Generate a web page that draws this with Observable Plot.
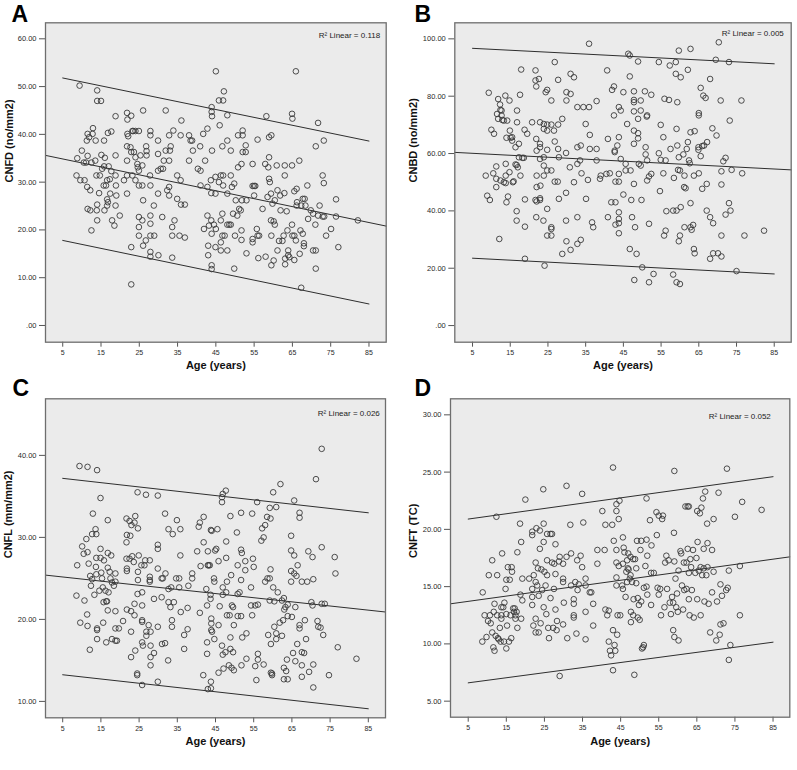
<!DOCTYPE html>
<html><head><meta charset="utf-8">
<script src="https://cdn.jsdelivr.net/npm/d3@7"></script>
<script src="https://cdn.jsdelivr.net/npm/@observablehq/plot@0.6"></script>
<style>
body{margin:0;background:#fff;}
#wrap{position:relative;width:797px;height:770px;overflow:hidden;background:#fff;}
#wrap svg{position:absolute;}
</style></head><body><div id="wrap"></div>
<script>
// ---------- data (age in years, value) ----------
const xTicks = [5, 15, 25, 35, 45, 55, 65, 75, 85];
const xLabel = "Age (years)";
const panelLetters = ["A", "B", "C", "D"];
const yLabels = ["CNFD (no/mm2)", "CNBD (no/mm2)", "CNFL (mm/mm2)", "CNFT (TC)"];
const r2Labels = ["R² Linear = 0.118", "R² Linear = 0.005", "R² Linear = 0.026", "R² Linear = 0.052"];

const cnfdTicks = [0, 10, 20, 30, 40, 50, 60];
const cnbdTicks = [0, 20, 40, 60, 80, 100];
const cnflTicks = [10, 20, 30, 40];
const cnftTicks = [5, 10, 15, 20, 25, 30];

const cnfdUpper = [[5, 51.8], [85, 38.6]];
const cnfdFit = [[0.5, 35.6], [89.5, 20.8]];
const cnfdLower = [[5, 17.8], [85, 4.5]];
const cnbdUpper = [[5, 96.7], [85, 91.3]];
const cnbdFit = [[0.3, 60.4], [89.5, 54.3]];
const cnbdLower = [[5, 23.5], [85, 18.0]];
const cnflUpper = [[5, 37.2], [85, 33.0]];
const cnflFit = [[0.5, 25.4], [89.5, 20.9]];
const cnflLower = [[5, 13.25], [85, 9.1]];
const cnftUpper = [[5, 20.9], [85, 24.6]];
const cnftFit = [[0.35, 13.5], [89.4, 17.6]];
const cnftLower = [[5, 6.6], [85, 10.15]];

const cnfdPoints = [[9.4,50.2],[8.8,35.0],[8.6,31.4],[10,36.6],[9.6,30.4],[10.7,30.4],[10.5,34.1],
[11.3,38.7],[11.5,40.1],[11.9,39.4],[12.9,41.3],[12.8,40.1],[13.6,38.7],[11.5,35.5],[11.1,34.1],[12.5,34.1],[13.5,34.5],[11.4,29.0],[12.2,28.3],[11.5,24.4],[12.2,24.1],[12.5,19.9],[14,49.2],[14,47.0],[15,47.0],[13.8,31.4],[14.7,31.4],[14,25.3],[13.9,24.1],[14,22.0],[14.5,27.7],
[15.1,35.7],[16,35.1],[15.3,32.8],[15.8,33.3],[15.7,29.3],[16.3,29.3],[16.6,30.4],[17.3,30.6],[17,33.3],[17.7,32.3],[16.6,26.4],[16.8,25.8],[17.4,27.6],[15.8,38.7],[16.8,40.3],[17.7,40.6],[15.9,24.1],[16.6,25.1],[17.9,22.0],[18.5,20.9],[18.8,35.6],[18.8,43.8],[18.8,31.4],[18.9,29.3],[19,27.2],[18.8,25.1],[19.9,23.0],
[21,30.4],[21.8,31.4],[21.8,44.5],[21.9,43.1],[21.9,40.1],[22.1,39.6],[21.8,37.5],[21.8,34.5],[21.8,27.6],[22.9,43.9],[22.7,37.3],[23.2,40.7],[23.4,40.7],[24,40.7],[24.9,40.7],[22.9,36.3],[23.6,36.3],[24,35.2],[24.5,33.8],[24.6,33.1],[23.2,31.4],[24,30.4],[25.3,35.6],[22.9,16.4],[22.9,8.6],[24.9,32.4],[24.9,29.3],[24.9,22.7],[24.9,20.6],[24.9,18.8],[25.8,29.3],[26,45.0],[26,26.2],[25.8,22.0],[26,16.7],[25.8,33.5],
[26.8,37.5],[26.9,36.5],[26.9,35.6],[26.7,17.8],[27.9,40.7],[27.9,39.8],[27.8,31.4],[27.9,29.3],[27.9,23.0],[27.9,21.3],[27.9,18.8],[28.9,18.8],[27.9,15.4],[27.9,14.4],[28.8,25.1],[29.9,38.7],[29.9,35.9],[29.9,32.4],[29.9,27.6],[30,14.7],[31,22.7],[30.6,32.8],[31.2,32.8],[31.4,34.5],[31.9,45.0],[31.9,36.6],[32.3,28.3],
[32.8,39.8],[33,36.6],[33.2,37.5],[32.8,34.5],[32.8,29.0],[32.8,27.2],[33.6,20.6],[33.6,18.8],[33.6,14.2],[34.2,22.0],[33.9,40.8],[34.9,31.4],[34.9,26.5],[35.5,18.8],[35.8,39.8],[36,42.9],[35.8,30.4],[35.9,25.3],[36.9,25.3],[36.9,18.4],[38,39.8],[38,34.5],[38.4,38.7],
[38.8,38.7],[39,36.6],[40.3,32.8],[41,32.4],[40.9,37.5],[41,29.3],[41.7,40.1],[42.2,34.5],[41.9,20.2],[42.8,41.2],[42.8,29.0],[42.8,23.0],[43,16.7],[43,14.7],[43.2,20.9],[43.7,30.4],[43.8,27.7],[43.8,22.0],[43.9,19.2],[43.9,12.6],[43.9,11.8],[44,36.6],[43.9,45.7],[43.9,44.7],[44,43.8],[45,53.2],[44.9,31.1],[44.9,27.6],[44.9,16.4],[45,20.2],[44.5,21.1],
[45.8,47.1],[46.9,47.1],[47.1,49.0],[46,41.9],[45.8,30.0],[46.3,31.4],[46.7,37.5],[46.9,31.4],[46.9,29.3],[46.3,22.0],[46.3,17.4],[46.7,23.4],[46.7,18.8],[47.3,18.8],[46.3,15.7],[48,44.0],[48,38.7],[48,27.6],[48,21.1],[48.5,21.1],[48.9,21.1],[48,15.7],[48.9,36.6],[48.9,31.4],[49.2,29.0],[49.5,23.4],[49.8,29.7],[49.8,11.9],[50,18.8],[50.2,26.2],[50.6,23.0],[50.8,39.8],[50.8,33.1],[51.1,24.4],[51.5,24.1],
[51.7,33.8],[52,39.8],[52,40.8],[52,36.3],[51.8,26.2],[51.7,19.9],[51.7,17.9],[52.8,37.7],[52.8,36.3],[53,26.2],[53,15.1],[54.6,33.8],[54.6,29.2],[55,29.2],[55.3,29.2],[55,27.2],[54.6,18.1],[54.6,17.4],[55.7,20.2],[55.9,18.8],[56.3,18.8],[56.1,14.1],[55.9,38.9],[57.2,24.4],
[58,14.4],[57.9,33.8],[58.2,43.8],[58.5,26.9],[58.7,33.1],[58.9,39.4],[59.5,39.8],[58.9,35.2],[58.9,30.7],[59.1,30.0],[59.4,27.6],[59.4,22.0],[60.1,21.8],[59.5,18.8],[59.5,12.6],[60.1,13.6],[59.8,25.5],[60.4,26.2],[60.4,21.1],[60.9,33.5],[61.1,28.3],[61.1,15.7],[61.5,17.7],[61.8,27.2],[61.9,24.1],[62.4,17.7],[62.7,18.8],[62.9,27.7],[63,33.5],[63,31.4],[63.1,14.0],[63.1,12.8],[63.5,23.9],[63.7,19.9],[63.9,15.7],[63.9,14.7],[64.2,14.3],
[64.9,44.3],[65,43.3],[64.9,33.5],[64.9,21.1],[65,18.8],[65.5,18.8],[65.5,13.7],[65.5,28.1],[65.9,53.2],[66.1,28.6],[66.2,25.8],[66.1,25.1],[65.9,17.8],[66.8,34.5],[66.9,15.0],[67.1,19.9],[67.3,7.9],[67.3,25.1],[67.7,26.5],[67.7,19.2],[68,17.2],[68,16.6],[68.2,26.5],[68.4,25.1],[68.9,29.3],[69.1,22.3],[69.8,24.1],[70.4,23.4],[70.4,15.7],[71.1,15.7],[71,21.1],[71.1,37.5],[71.1,11.9],[71.7,42.4],[71.7,23.0],[72.1,25.1],
[72.9,31.4],[73.2,29.8],[73.2,38.7],[72.9,22.8],[73.3,22.8],[73.8,18.8],[75.1,20.2],[76.4,26.4],[76.4,22.8],[77,16.4],[82.1,22.0]];

const cnbdPoints = [[8.5,52.3],[8.9,45.3],[9.6,43.8],[9.3,81.2],[10,68.3],[10.7,66.9],[10.5,53.1],[11.3,55.5],[11.3,51.2],[11.3,48.3],[11.8,79.0],[11.5,73.8],[11.8,72.1],[12.3,77.1],[12.4,75.2],[12.7,75.0],[12.7,73.3],[12.9,71.7],[12.4,50.6],[12.1,30.2],[13.3,50.0],[13.3,71.5],[13.7,80.2],[13.8,49.7],[13.8,56.4],[13.8,52.3],[14,65.5],[14,43.0],[14.2,71.5],[14.4,45.0],[14.8,78.5],[14.8,53.5],[14.9,68.0],[15.1,65.5],[15.5,65.7],[15.5,64.5],[15.7,50.0],[15.9,50.3],[16.4,56.2],[16.4,62.2],[16.7,56.0],[16.7,39.9],[16.7,36.6],[16.8,75.0],[16.8,70.9],[17,55.2],[17.3,58.7],[17.3,63.4],[17.6,80.5],[17.7,52.3],[17.9,89.3],[18.2,58.5],[18.6,58.5],[18.8,68.3],[18.9,44.0],[18.9,34.5],[18.9,23.3],[19.5,66.9],[20.8,70.9],[21.7,89.0],[21.7,85.5],[21.9,83.4],[21.9,65.1],[22,61.0],[22,52.3],[22,48.3],[21.7,43.8],[22,43.3],[21.9,37.8],[22.6,86.0],[22.9,70.9],[22.9,63.4],[22.9,58.1],[23,48.8],[22.9,44.4],[22.9,43.8],[22.9,62.2],[23.9,70.3],[23.9,68.6],[23.9,58.7],[23.9,55.8],[23.9,52.3],[23.8,36.6],[24.1,20.9],[24.4,81.4],[24.8,82.2],[24.8,70.1],[24.8,68.0],[24.8,61.3],[24.8,54.1],[24.8,40.7],[24.8,31.4],[25.9,78.5],[25.9,70.1],[25.9,54.1],[25.9,34.3],[25.9,33.7],[25.9,31.4],[26.6,68.0],[26.8,91.9],[26.8,64.2],[26.8,50.2],[27.6,50.2],[27.7,70.1],[27.7,85.7],[27.7,61.6],[27.9,58.7],[27.9,44.2],[28.8,72.1],[28.8,25.0],[29.8,60.2],[29.8,46.3],[29.8,36.6],[29.9,78.5],[29.9,81.4],[29.9,29.4],[30.8,55.2],[31,80.8],[31,87.8],[31,26.4],[31.9,86.6],[31.9,50.0],[32.8,76.2],[32.8,62.2],[32.8,56.4],[32.8,37.8],[32.8,28.5],[33.5,57.6],[33.7,62.8],[33.7,29.9],[33.9,53.1],[34.4,76.2],[35,70.3],[35.1,44.2],[35.6,50.8],[35.9,98.3],[35.9,76.2],[36.1,66.5],[36.1,61.6],[36.7,36.0],[37,34.3],[37.9,78.3],[37.9,61.6],[37.9,57.6],[38.8,51.2],[39,52.3],[40.7,89.0],[40.9,65.1],[40.9,37.8],[40.5,52.9],[41.4,53.1],[41.8,43.0],[42,82.2],[42.5,83.4],[42.5,73.3],[42.7,61.0],[42.7,60.5],[42.9,50.2],[42.9,43.0],[42.9,35.2],[43.4,62.8],[43.8,76.2],[43.8,65.7],[43.8,52.9],[43.8,50.2],[43.8,39.5],[43.8,37.2],[43.8,35.7],[43.8,32.2],[44.3,75.0],[44.3,58.1],[45,45.7],[45,81.4],[45.6,56.4],[45.6,54.1],[46,70.3],[46.3,94.8],[46.7,94.2],[46.7,86.9],[46.7,26.7],[46.9,54.1],[47.1,43.8],[47.3,37.8],[47.8,81.7],[47.8,78.7],[47.8,77.9],[47.8,74.7],[47.8,68.0],[47.8,63.4],[47.8,49.4],[48.1,34.3],[47.9,15.9],[48.5,25.0],[48.9,92.1],[48.9,72.1],[48.9,67.1],[48.9,65.3],[49.1,56.4],[49.6,55.8],[49.6,78.5],[49.6,75.0],[49.8,43.8],[50,20.3],[50.7,81.7],[50.9,62.2],[50.9,59.7],[51.2,72.9],[51.3,73.3],[51.3,57.6],[51.3,50.6],[51.8,52.0],[51.8,35.5],[51.8,15.1],[52.4,80.5],[52.4,52.9],[53,18.0],[54.4,91.9],[54.4,60.1],[54.7,46.9],[54.9,57.8],[54.9,70.0],[55.6,65.7],[55.6,53.1],[55.9,79.1],[56.2,57.6],[55.8,31.4],[56.2,33.1],[56.4,39.9],[57.1,78.7],[57.3,90.7],[57.5,61.6],[58.2,40.1],[58.4,51.5],[58.2,17.8],[58.9,91.9],[58.9,87.8],[59.1,40.1],[59.1,68.6],[59.3,77.9],[59.3,62.8],[59.5,54.3],[59.7,95.9],[59.7,58.7],[59.7,29.4],[59.1,15.1],[60,54.1],[60,31.4],[60,14.5],[60.2,41.3],[60.2,86.6],[60.9,59.7],[61.1,48.3],[61.2,52.3],[61.2,34.3],[61.5,47.9],[61.8,61.6],[62.1,89.2],[62.1,64.0],[62.4,57.6],[62.6,56.6],[62.8,67.4],[62.8,42.7],[62.8,96.5],[62.8,34.3],[63.1,33.4],[63.5,35.1],[63.9,67.8],[63.7,52.3],[63.7,26.7],[63.9,25.2],[64.9,62.2],[64.9,61.3],[65,74.1],[65,73.3],[65,53.1],[65.5,82.9],[65.5,59.1],[65.9,62.6],[65.9,47.7],[66.2,80.2],[66.4,62.8],[66.8,79.4],[67.1,49.4],[67.1,40.1],[67.2,64.0],[68,86.0],[68,37.8],[68,23.3],[68.6,68.8],[68.8,35.7],[68.8,25.2],[69.7,66.3],[69.5,92.7],[70.1,25.2],[70.3,98.8],[70.8,78.5],[71,53.8],[71,49.2],[71,31.4],[71,24.1],[71.5,57.3],[72.1,58.5],[72.1,38.7],[73,91.9],[73.2,71.5],[73,42.7],[73.4,40.1],[73.7,54.3],[75,19.0],[76.3,78.5],[76.5,53.1],[77.1,31.4],[82.3,33.1]];

const cnflPoints = [[8.6,22.9],[9.4,38.7],[9.6,19.6],[10.1,28.9],[10.5,28.0],[10.7,22.3],[8.8,26.6],[11.5,38.6],[11.2,29.8],[11.5,28.2],[11.4,20.6],[11.5,19.2],[12.1,16.3],[11.8,26.8],[12.2,25.3],[12.4,24.1],[12.7,24.9],[12.9,32.9],[12.7,30.4],[13.6,31.0],[13.8,30.4],[14,38.2],[13.8,27.5],[13.7,26.4],[13.8,25.5],[13.3,23.0],[14,18.9],[14,18.7],[14,17.6],[14.6,23.5],[14.9,34.8],[14.9,28.6],[14.9,27.5],[15.1,25.7],[15.3,25.0],[15.5,23.9],[15.6,19.6],[15.7,22.1],[15.8,27.2],[16.2,23.5],[16.4,22.2],[16.6,22.2],[16.8,32.1],[16.8,28.1],[16.8,26.3],[17,23.3],[16.4,17.2],[16.8,21.1],[17.3,25.8],[17.5,25.0],[17.7,27.8],[17.9,24.5],[17.9,17.6],[18.4,24.1],[18.8,25.6],[18.8,24.6],[18.8,21.0],[18.8,18.9],[18.8,17.4],[19.2,17.4],[19.7,18.9],[20.8,19.8],[21.7,32.3],[21.8,30.3],[21.7,29.4],[21.7,27.4],[21.8,26.2],[21.8,25.9],[21.8,21.2],[22.5,32.0],[22.5,27.4],[22.7,30.2],[22.9,21.0],[22.9,18.5],[22.9,15.4],[23,31.5],[23.2,27.7],[23.6,27.0],[23.8,21.9],[23.8,20.5],[23.8,31.8],[24,32.6],[24,16.2],[24.7,31.1],[24.7,25.8],[24.7,24.8],[24.6,23.1],[24.6,35.5],[24.5,13.4],[24.5,13.2],[24.9,27.8],[25.6,26.6],[25.8,23.3],[25.8,21.7],[25.8,19.9],[25.8,19.7],[25.8,17.2],[26,16.8],[25.8,12.0],[26.4,26.6],[26.6,27.2],[26.8,35.2],[26.9,18.0],[26.9,18.5],[27.5,19.3],[27.8,27.2],[27.8,25.2],[27.8,24.8],[27.8,24.6],[28,18.5],[28,16.8],[28,15.4],[28,14.4],[28.9,22.5],[28.9,15.9],[29.9,35.1],[29.9,29.1],[29.9,28.6],[29.9,26.2],[29.9,19.1],[29.9,12.4],[30.9,22.7],[30.9,25.0],[31.2,25.0],[31,17.0],[31.8,17.1],[31.8,32.9],[31.9,25.6],[32.6,15.0],[32.7,31.0],[32.7,23.7],[32.7,22.1],[33.2,21.5],[33.4,23.9],[33.6,19.9],[33.6,19.1],[33.8,30.4],[34.1,22.1],[34.7,25.0],[34.9,32.1],[35.5,25.0],[35.8,27.8],[35.8,31.0],[35.5,23.9],[35.9,20.9],[36.8,16.4],[36.8,18.1],[37.9,24.1],[37.7,21.4],[37.7,18.8],[38.9,25.6],[38.9,25.0],[40.2,28.3],[40.6,31.3],[40.9,31.8],[40.9,20.8],[41.1,26.5],[41.8,13.2],[41.9,29.4],[41.9,32.5],[42.6,23.7],[42.8,21.7],[42.8,17.2],[42.8,15.8],[43,28.3],[43,26.6],[43.2,26.6],[43.5,26.6],[43,11.5],[43.8,12.4],[43.8,11.6],[43.7,22.5],[43.8,30.9],[44,30.8],[43.9,20.1],[43.9,19.5],[43.9,18.7],[44.1,18.5],[43.7,23.0],[44.6,25.0],[44.7,24.6],[44.7,17.6],[44.9,28.4],[45.2,28.6],[45.5,31.0],[45.8,27.1],[45.8,13.5],[45.8,19.3],[46.1,21.6],[46.7,34.9],[46.9,35.3],[46.7,34.3],[46.9,23.9],[46.9,23.0],[46.7,16.8],[46.9,15.7],[47.1,14.0],[47.6,16.0],[47.7,35.7],[47.8,29.5],[47.8,27.5],[48,24.6],[47.8,23.3],[48,20.5],[48.5,14.4],[48.7,20.5],[48.9,32.6],[48.9,17.8],[48.9,16.4],[49.1,25.4],[49.2,14.1],[49.3,21.7],[49.6,21.5],[49.8,19.3],[49.8,13.8],[49.6,16.0],[50.6,30.6],[50.8,26.6],[50.8,23.1],[50.8,20.4],[51.3,23.3],[51.7,20.4],[51.7,24.8],[51.7,28.5],[51.9,28.1],[51.8,14.4],[51.7,33.0],[52,17.8],[52.8,27.1],[52.8,26.0],[53.1,18.3],[53.1,15.2],[54.3,23.9],[54.3,21.7],[54.6,32.9],[54.6,20.5],[54.8,27.4],[55,26.4],[55.4,21.7],[55.4,14.3],[55.7,12.6],[55.9,34.3],[56.1,21.8],[56.1,15.8],[56.1,15.1],[57,29.6],[57.2,31.1],[57.6,30.0],[57.6,14.5],[58,31.5],[58,24.6],[58.5,32.5],[58.6,25.0],[58.8,18.1],[59.2,33.6],[59.2,25.0],[59.4,32.3],[59.2,22.3],[59.4,26.1],[59.5,17.0],[59.5,13.5],[59.8,13.4],[59.8,13.2],[60.1,35.5],[60.1,23.9],[60.4,22.2],[60.4,19.1],[60.9,33.7],[60.9,18.3],[60.9,17.6],[61.3,23.3],[61.8,19.6],[62,36.5],[62.4,22.3],[62.4,18.0],[62.7,19.9],[62.9,22.6],[62.9,14.1],[62.9,12.7],[63,21.2],[63.3,21.5],[63.5,13.7],[63.7,15.1],[63.9,21.8],[63.9,20.4],[63.9,12.7],[64.8,30.2],[64.8,28.4],[64.8,25.9],[64.8,24.6],[65,20.3],[65.3,15.9],[65.6,34.5],[65.6,27.8],[65.6,25.6],[65.9,21.5],[65.9,14.9],[66.2,25.3],[66.4,17.0],[66.5,26.6],[67,33.0],[67,32.4],[67,19.3],[67,18.9],[67.6,24.6],[67.6,16.0],[67.6,14.4],[67.6,13.0],[68.2,15.9],[68.4,19.9],[68.7,17.6],[69,24.6],[69.3,28.3],[69.5,13.6],[70.1,22.1],[70.4,27.6],[70.4,21.7],[70.6,24.9],[70.6,14.5],[70.6,11.7],[71.3,37.1],[71.7,19.8],[71.9,19.1],[72.5,19.0],[72.8,28.8],[72.8,40.8],[72.8,21.9],[73.2,18.1],[73.6,21.9],[74.7,13.2],[76.2,27.6],[76.4,25.6],[77,16.6],[81.9,15.2]];

const cnftPoints = [[8.8,14.5],[8.7,10.2],[9.3,12.5],[9.8,10.6],[10.2,12.0],[10.4,16.0],[10.7,12.5],[10.9,11.8],[11.3,17.3],[11.3,11.0],[11.6,9.7],[11.7,12.8],[11.9,9.4],[11.9,13.5],[12.2,10.7],[12.4,21.1],[12.6,16.0],[12.6,12.5],[12.8,10.5],[13,10.4],[13.3,11.4],[13.5,10.2],[13.7,13.2],[13.7,12.5],[13.7,12.2],[13.9,17.9],[14.2,13.2],[14.4,10.2],[14.5,13.6],[14.8,14.8],[15,15.6],[15,12.6],[15,9.6],[15.2,11.6],[15.4,16.7],[15.7,10.2],[15.9,15.6],[16.1,12.5],[16.3,10.5],[16.4,16.7],[16.5,16.3],[16.8,13.1],[17,12.8],[17.2,13.1],[17.4,12.5],[17.4,12.2],[17.7,12.8],[17.9,18.0],[17.9,11.4],[18.6,20.5],[18.7,14.3],[18.9,12.2],[18.9,18.9],[19.2,15.7],[19.2,13.8],[20,22.6],[21,15.7],[21.8,14.8],[21.8,14.1],[21.8,19.8],[21.8,19.5],[21.8,13.4],[22.1,11.6],[22.2,16.0],[22.7,17.1],[22.7,15.4],[22.7,12.2],[22.7,11.0],[22.9,20.1],[23.1,15.1],[23.3,16.6],[23.5,14.2],[23.5,11.0],[23.8,19.9],[23.8,18.3],[24,11.8],[24.2,16.5],[24.4,14.7],[24.7,23.5],[24.8,20.5],[24.8,18.9],[24.8,13.2],[25,16.3],[25.3,15.1],[25.5,12.6],[25.7,19.6],[25.7,17.3],[25.7,16.0],[26,11.4],[26.2,10.5],[26.6,14.0],[26.6,19.6],[27,17.1],[27,19.6],[27.3,11.4],[27.5,14.8],[27.6,17.0],[27.9,18.7],[27.9,16.1],[27.9,13.0],[28.2,11.2],[28.3,12.0],[28.8,17.2],[29,17.6],[29,7.2],[29.9,15.7],[29.9,15.4],[29.9,11.7],[29.9,17.0],[30.1,13.6],[30.8,23.8],[30.8,17.6],[31,10.5],[31.8,20.4],[32,17.9],[32,15.1],[32.7,13.9],[32.7,13.5],[32.7,12.5],[32.7,12.3],[33.1,15.4],[33.4,10.9],[33.6,17.3],[33.7,14.7],[34,15.2],[34.5,17.7],[34.9,23.1],[34.9,16.7],[35.2,20.6],[35.8,15.7],[35.8,15.1],[35.8,10.4],[35.8,12.8],[36.9,14.5],[37.3,14.5],[37.8,13.5],[37.8,11.6],[38.9,17.0],[38.9,18.2],[40.2,21.6],[40.8,18.2],[41,20.4],[41,13.0],[41.5,12.5],[41.9,12.9],[41.9,10.2],[42.2,9.4],[42.5,9.0],[42.8,20.4],[43,25.4],[43,7.7],[43,11.2],[43.2,19.0],[43.4,9.9],[43.6,9.4],[43.9,22.2],[43.9,21.6],[43.9,18.2],[43.9,17.1],[43.9,15.8],[43.9,15.1],[44.1,10.8],[44.2,12.5],[44.5,20.9],[44.7,22.5],[44.5,16.8],[44.9,12.5],[45.4,15.1],[45.6,19.3],[45.6,17.0],[45.6,14.8],[45.8,18.4],[46,18.0],[46.3,14.1],[46.5,16.3],[46.7,17.3],[46.7,15.4],[46.9,16.6],[47,17.9],[47.1,16.5],[47.4,15.7],[47.6,17.6],[47.6,16.0],[47.7,12.8],[47.7,11.9],[48,15.4],[48.3,17.4],[48.3,12.5],[48.4,13.9],[48.6,7.3],[48.8,17.4],[49.1,16.6],[49.1,15.3],[49.3,19.0],[49.5,14.0],[49.5,12.3],[49.8,13.4],[50,12.1],[50.2,18.2],[50.4,19.0],[50.4,13.7],[50.6,9.6],[50.9,9.7],[51.1,9.9],[51.1,14.9],[51.5,16.8],[51.8,22.7],[51.8,19.1],[51.8,15.0],[52,14.3],[52,17.7],[52.7,20.8],[53,13.4],[53,16.2],[53.1,18.6],[53.7,16.2],[54.4,21.5],[54.5,19.5],[54.7,14.9],[55,21.2],[55,14.3],[55.4,14.8],[55.6,12.5],[55.9,20.9],[56.1,21.2],[56.5,13.2],[56.7,17.1],[57,17.7],[57.2,14.8],[57.6,17.3],[57.9,13.6],[58.2,12.6],[58.5,14.1],[58.8,13.6],[58.8,11.2],[59,19.7],[59.1,25.1],[59.1,17.2],[59.1,10.6],[59.4,15.7],[59.6,13.2],[59.8,14.4],[60,12.8],[60.2,10.3],[60.2,16.4],[60.7,18.1],[60.9,17.9],[61.1,15.1],[61.4,13.0],[61.6,17.1],[61.7,14.7],[62,22.0],[62.3,17.1],[62.3,14.8],[62.6,22.0],[62.9,22.0],[62.6,18.3],[62.9,16.2],[62.9,13.9],[63.1,12.5],[63.3,17.4],[63.5,16.7],[63.7,14.7],[64,18.2],[64.2,12.3],[64.6,16.2],[64.9,17.5],[65.1,21.6],[65.1,13.9],[65.2,18.9],[65.5,16.4],[65.8,21.4],[66,12.5],[66,16.7],[66.2,21.9],[66.4,16.0],[66.6,22.7],[66.8,16.6],[66.8,18.3],[67,13.7],[67.2,23.3],[67.5,16.0],[67.7,20.5],[67.8,16.7],[67.8,18.8],[68.1,13.5],[68.5,11.0],[69,14.5],[69,18.2],[69.4,20.9],[69.4,16.3],[70.1,10.3],[70.3,13.7],[70.7,23.2],[71,10.8],[71.2,11.7],[71.2,15.2],[71.6,14.2],[72,11.8],[72.7,14.7],[72.9,25.3],[73.1,14.9],[73.4,16.4],[73.4,8.6],[73.8,9.9],[75,21.1],[76.3,16.8],[76.3,12.5],[76.9,22.4],[82,21.7]];

// ---------- drawing ----------
const FONT = "'Liberation Sans', Arial, Helvetica, sans-serif";
const fmt = v => v === 0 ? ".00" : v.toFixed(2);

function panel(cfg) {
  const b = cfg.box;
  const line = (data, w) => Plot.line(data, {x: d => d[0], y: d => d[1], stroke: "#2e2e2e", strokeWidth: w});
  const svg = Plot.plot({
    width: b.w, height: b.h,
    marginLeft: b.ml, marginRight: b.mr, marginTop: b.mt, marginBottom: b.mb,
    style: {fontFamily: FONT, fontSize: "7.5px", color: "#2a2a2a", background: "transparent", overflow: "visible"},
    x: {domain: cfg.xDomain, label: null},
    y: {domain: cfg.yDomain, label: null},
    marks: [
      Plot.frame({fill: "#ebebeb", stroke: "none"}),
      Plot.axisY(cfg.yTicks, {tickFormat: fmt, tickSize: 6, tickPadding: 3, stroke: "#555", fontSize: 7.5, label: null}),
      Plot.axisX(xTicks, {tickSize: 5, tickPadding: 3, stroke: "#555", fontSize: 7, label: null}),
      line(cfg.upper, 1), line(cfg.fit, 1), line(cfg.lower, 1),
      Plot.dot(cfg.points, {x: d => d[0], y: d => d[1], r: 2.8, stroke: "#3a3a3a", strokeWidth: 0.9, fill: "none"}),
      Plot.frame({stroke: "#6e6e6e", strokeWidth: 1.3}),
      Plot.text([cfg.r2], {frameAnchor: "top-right", dx: cfg.r2dx, dy: cfg.r2dy, textAnchor: "end", fontSize: 8, fill: "#222"}),
      Plot.text([cfg.letter], {frameAnchor: "top-left", dx: cfg.ldx, dy: cfg.ldy, fontSize: 23, fontWeight: "bold", fill: "#000", lineAnchor: "bottom"}),
      Plot.text([cfg.yLabel], {frameAnchor: "left", dx: cfg.ylx, rotate: -90, fontSize: 11, fontWeight: "bold", fill: "#111"}),
      Plot.text([xLabel], {frameAnchor: "bottom", dy: cfg.xly, fontSize: 11, fontWeight: "bold", fill: "#111"})
    ]
  });
  svg.style.left = b.left + "px";
  svg.style.top = b.top + "px";
  document.getElementById("wrap").appendChild(svg);
}

panel({box: {left: 0, top: 0, w: 400, h: 385, ml: 45, mr: 14.3, mt: 22.3, mb: 43.3},
  xDomain: [0.5, 89.5], yDomain: [-3.5, 63.35], yTicks: cnfdTicks,
  upper: cnfdUpper, fit: cnfdFit, lower: cnfdLower, points: cnfdPoints,
  r2: r2Labels[0], r2dx: -6, r2dy: 10, letter: panelLetters[0], ldx: -34, ldy: -0.8,
  yLabel: yLabels[0], ylx: -36.5, xly: 26.6});

panel({box: {left: 400, top: 0, w: 397, h: 385, ml: 54.3, mr: 6.3, mt: 22.3, mb: 43.3},
  xDomain: [0.3, 89.5], yDomain: [-5.8, 105.6], yTicks: cnbdTicks,
  upper: cnbdUpper, fit: cnbdFit, lower: cnbdLower, points: cnbdPoints,
  r2: r2Labels[1], r2dx: -7.4, r2dy: 7.7, letter: panelLetters[1], ldx: -40.3, ldy: -0.8,
  yLabel: yLabels[1], ylx: -41, xly: 26.6});

panel({box: {left: 0, top: 385, w: 400, h: 385, ml: 45, mr: 15, mt: 13.3, mb: 52.7},
  xDomain: [0.5, 89.5], yDomain: [8.0, 46.9], yTicks: cnflTicks,
  upper: cnflUpper, fit: cnflFit, lower: cnflLower, points: cnflPoints,
  r2: r2Labels[2], r2dx: -5.7, r2dy: 11.7, letter: panelLetters[2], ldx: -33, ldy: -2.5,
  yLabel: yLabels[2], ylx: -36.7, xly: 27});

panel({box: {left: 400, top: 385, w: 397, h: 385, ml: 50, mr: 7.7, mt: 13.3, mb: 53.3},
  xDomain: [0.35, 89.4], yDomain: [3.6, 31.4], yTicks: cnftTicks,
  upper: cnftUpper, fit: cnftFit, lower: cnftLower, points: cnftPoints,
  r2: r2Labels[3], r2dx: -19, r2dy: 15, letter: panelLetters[3], ldx: -36, ldy: -2.5,
  yLabel: yLabels[3], ylx: -36.7, xly: 27.6});
</script></body></html>
